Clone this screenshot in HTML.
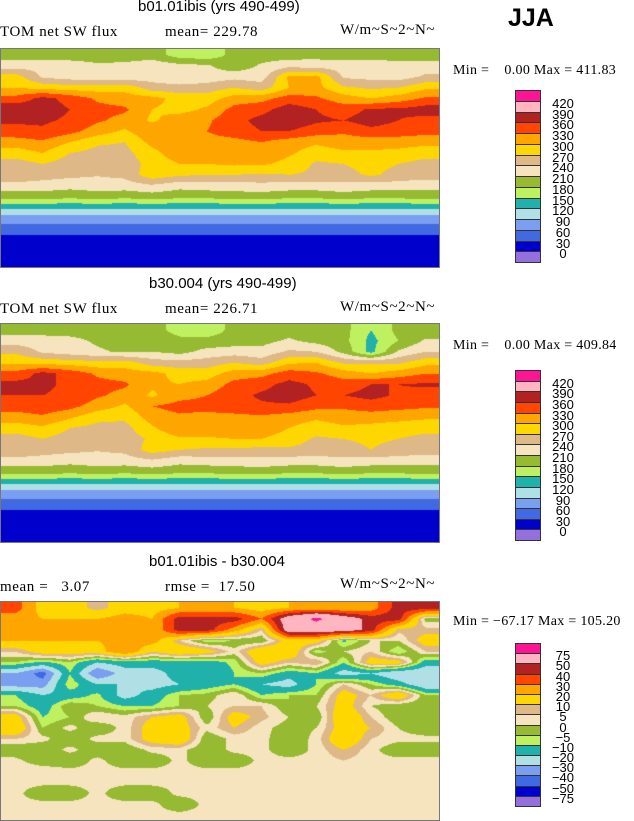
<!DOCTYPE html>
<html><head><meta charset="utf-8">
<style>
body{margin:0;background:#fff;width:634px;height:820px;position:relative;overflow:hidden;font-family:"Liberation Serif",serif;}
.t{position:absolute;white-space:nowrap;color:#000;}
.h{font-family:"Liberation Sans",sans-serif;font-size:15px;}
.s{font-size:15px;letter-spacing:0.6px;}
.m{font-size:14px;letter-spacing:0.3px;}
canvas{position:absolute;border:1px solid #777;box-sizing:border-box;}
.leg{position:absolute;}
</style></head><body>
<div class="t h" style="left:138px;top:-2px">b01.01ibis (yrs 490-499)</div>
<div class="t s" style="left:0;top:24px">TOM net SW flux</div>
<div class="t s" style="left:165px;top:24px">mean= 229.78</div>
<div class="t s" style="left:340px;top:22px">W/m~S~2~N~</div>
<div class="t" style="left:508px;top:4px;font:bold 25px 'Liberation Sans',sans-serif">JJA</div>
<div class="t m" style="left:453px;top:63px">Min =&nbsp;&nbsp;&nbsp;&nbsp;0.00 Max = 411.83</div>

<div class="t h" style="left:149px;top:275px">b30.004 (yrs 490-499)</div>
<div class="t s" style="left:0;top:301px">TOM net SW flux</div>
<div class="t s" style="left:165px;top:301px">mean= 226.71</div>
<div class="t s" style="left:340px;top:299px">W/m~S~2~N~</div>
<div class="t m" style="left:453px;top:338px">Min =&nbsp;&nbsp;&nbsp;&nbsp;0.00 Max = 409.84</div>

<div class="t h" style="left:149px;top:553px">b01.01ibis - b30.004</div>
<div class="t s" style="left:0;top:579px">mean =&nbsp;&nbsp;&nbsp;3.07</div>
<div class="t s" style="left:165px;top:579px">rmse =&nbsp;&nbsp;17.50</div>
<div class="t s" style="left:340px;top:576px">W/m~S~2~N~</div>
<div class="t m" style="left:453px;top:614px">Min = −67.17 Max = 105.20</div>

<canvas id="c1" width="438" height="218" style="left:0;top:48px"></canvas>
<canvas id="c2" width="438" height="218" style="left:0;top:323px"></canvas>
<canvas id="c3" width="438" height="218" style="left:0;top:601px"></canvas>
<div id="legends"></div>
<script>
const colors=["#9370db","#0000cd","#4169e1","#7a9ef0","#b0e0e6","#20b2aa","#bff060","#96bb32","#f5e4bd","#deb887","#ffd700","#ffa500","#ff4500","#b22222","#ffb6c1","#ff1493"];
const levelsSW=[0,30,60,90,120,150,180,210,240,270,300,330,360,390,420];
const levelsDiff=[-75,-50,-40,-30,-20,-10,-5,0,5,10,20,30,40,50,75];
const gridSW1=[
[195,195,195,195,190,195,165,160,190,195,195,200,195,195,190,190],
[225,230,225,215,220,230,220,215,190,215,230,225,225,230,225,225],
[285,235,225,220,220,225,215,220,230,225,305,310,235,230,225,245],
[300,290,285,285,290,255,250,255,270,255,300,310,275,265,270,295],
[340,370,350,325,315,310,290,285,315,320,345,335,315,300,315,335],
[385,375,360,340,335,300,290,305,340,350,375,360,345,365,365,375],
[365,365,355,335,320,295,315,325,350,370,380,365,360,375,360,350],
[350,355,340,315,295,325,330,330,345,360,360,345,335,350,345,340],
[315,325,300,275,270,310,320,320,320,330,315,305,315,315,315,310],
[285,300,270,260,260,290,320,320,325,325,305,285,295,295,290,280],
[255,270,255,250,255,280,300,300,305,305,290,265,270,280,270,260],
[270,255,248,242,248,290,275,270,270,265,270,265,260,275,260,255],
[225,225,220,225,225,235,220,225,225,230,225,225,230,225,225,220],
[195,195,190,195,190,195,190,190,195,195,190,190,195,190,190,195],
[125,125,125,125,125,125,125,125,125,125,125,125,125,125,125,125],
[75,75,75,75,75,75,75,75,75,75,75,75,75,75,75,75],
[45,45,45,45,45,45,45,45,45,45,45,45,45,45,45,45],
[15,15,15,15,15,15,15,15,15,15,15,15,15,15,15,15],
[15,15,15,15,15,15,15,15,15,15,15,15,15,15,15,15],
[15,15,15,15,15,15,15,15,15,15,15,15,15,15,15,15]];
const gridSW2=[
[195,195,195,195,190,195,165,160,190,195,195,195,190,150,190,190],
[225,225,220,205,195,205,190,190,195,200,215,200,190,140,180,215],
[265,235,225,215,205,210,200,220,225,220,245,240,200,140,215,240],
[295,290,285,280,285,255,250,255,270,255,295,300,265,265,265,290],
[340,370,350,325,315,310,290,285,315,320,345,335,315,300,315,330],
[370,365,355,340,335,305,300,310,340,350,370,355,345,360,360,365],
[360,360,355,335,320,295,320,330,350,365,375,360,360,370,355,345],
[345,350,340,315,295,330,340,340,350,355,355,340,335,345,340,335],
[315,325,305,280,275,315,325,320,320,325,315,305,315,315,310,305],
[285,295,270,260,260,295,325,320,325,320,300,285,295,290,285,280],
[255,270,255,250,255,275,295,295,300,300,285,265,270,275,270,260],
[270,255,248,242,248,285,270,265,265,260,265,260,260,270,260,255],
[225,225,220,225,225,235,220,225,225,230,225,225,230,225,225,220],
[195,195,190,195,190,195,190,190,195,195,190,190,195,190,190,195],
[125,125,125,125,125,125,125,125,125,125,125,125,125,125,125,125],
[75,75,75,75,75,75,75,75,75,75,75,75,75,75,75,75],
[45,45,45,45,45,45,45,45,45,45,45,45,45,45,45,45],
[15,15,15,15,15,15,15,15,15,15,15,15,15,15,15,15],
[15,15,15,15,15,15,15,15,15,15,15,15,15,15,15,15],
[15,15,15,15,15,15,15,15,15,15,15,15,15,15,15,15]];
const gridDiff=[
[35,15,15,7,15,15,20,20,20,15,20,20,20,25,45,45],
[25,20,20,20,25,20,45,45,45,30,60,80,60,45,45,-3],
[30,30,20,20,20,20,45,45,25,5,60,60,60,45,7,7],
[20,20,20,20,25,25,5,-8,-5,-5,15,15,-12,0,0,15],
[5,15,15,15,30,10,20,15,2,20,20,-8,0,5,-10,5],
[-5,-12,-5,-20,-15,-15,-15,-15,-8,15,5,10,-10,15,15,-15],
[-30,-45,-10,-40,-25,-25,-15,-20,-10,-5,-15,-10,-25,-20,-30,-30],
[-35,-35,-5,-20,-20,-25,-20,-15,-10,-20,-25,-10,5,-5,-15,-30],
[-10,-20,-15,-8,-25,-15,-5,-3,5,-10,-5,-5,15,5,20,-5],
[-5,-15,0,-5,-10,-10,-5,0,5,5,-5,0,15,0,-5,-5],
[15,-10,-5,5,2,10,15,-5,15,7,0,-5,20,5,-5,0],
[20,-5,2,-5,2,15,15,2,10,2,-3,0,15,10,0,-5],
[5,2,-5,2,2,15,20,-5,2,2,-5,2,20,5,2,2],
[-5,-5,2,-5,-5,2,2,-5,2,2,-5,2,10,2,-5,-5],
[2,-5,-5,2,-5,-5,2,-5,-5,2,2,2,5,2,2,2],
[5,5,2,2,2,2,2,2,2,2,2,2,5,2,2,5],
[2,2,2,2,2,2,2,2,2,2,2,2,2,2,2,2],
[2,-5,-5,2,-5,-5,2,2,2,2,2,2,2,2,2,2],
[2,2,2,2,2,2,-5,2,2,2,2,2,2,2,2,2],
[2,2,2,2,2,2,2,2,2,2,2,2,2,2,2,2]];
const labelsSW=["420","390","360","330","300","270","240","210","180","150","120","90","60","30","0"];
const labelsDiff=["75","50","40","30","20","10","5","0","−5","−10","−20","−30","−40","−50","−75"];

function hex(c){return [parseInt(c.substr(1,2),16),parseInt(c.substr(3,2),16),parseInt(c.substr(5,2),16)];}
const rgb=colors.map(hex);
function idx(v,lv){let i=0;while(i<lv.length&&v>=lv[i])i++;return i;}
function draw(id,grid,lv){
  const cv=document.getElementById(id),ctx=cv.getContext('2d');
  const W=cv.width,H=cv.height,R=grid.length,C=grid[0].length;
  const img=ctx.createImageData(W,H);
  for(let y=0;y<H;y++){
    let gy=y/H*R-0.5;gy=Math.max(0,Math.min(R-1,gy));
    const y0=Math.floor(gy),y1=Math.min(R-1,y0+1),fy=gy-y0;
    for(let x=0;x<W;x++){
      let gx=x/W*C-0.5;gx=Math.max(0,Math.min(C-1,gx));
      const x0=Math.floor(gx),x1=Math.min(C-1,x0+1),fx=gx-x0;
      const v=(grid[y0][x0]*(1-fx)+grid[y0][x1]*fx)*(1-fy)+(grid[y1][x0]*(1-fx)+grid[y1][x1]*fx)*fy;
      const c=rgb[idx(v,lv)];const p=(y*W+x)*4;
      img.data[p]=c[0];img.data[p+1]=c[1];img.data[p+2]=c[2];img.data[p+3]=255;
    }
  }
  ctx.putImageData(img,0,0);
}
draw('c1',gridSW1,levelsSW);draw('c2',gridSW2,levelsSW);draw('c3',gridDiff,levelsDiff);

function legend(top,bottom,labels,name){
  const box=document.createElement('div');
  box.className='leg';
  
  
  box.style.left='515px';box.style.top=top+'px';
  const n=colors.length,h=(bottom-top)/n;
  for(let i=0;i<n;i++){
    const b=document.createElement('div');
    
    
    b.style.cssText='position:absolute;left:0;width:26px;box-sizing:border-box;border:1px solid #333;top:'+(i*h)+'px;height:'+(h+1)+'px;background:'+colors[n-1-i];
    box.appendChild(b);
  }
  labels.forEach((l,i)=>{
    const t=document.createElement('div');
    
    
    t.style.cssText='position:absolute;left:32px;width:32px;text-align:center;font:13px "Liberation Sans",sans-serif;line-height:13px;top:'+((i+1)*h-6+2)+'px';
    t.textContent=l;box.appendChild(t);
  });
  document.getElementById('legends').appendChild(box);
}
legend(90,262,labelsSW,'panel1-legend');
legend(370,540,labelsSW,'panel2-legend');
legend(643,806,labelsDiff,'panel3-legend');
</script>
</body></html>
